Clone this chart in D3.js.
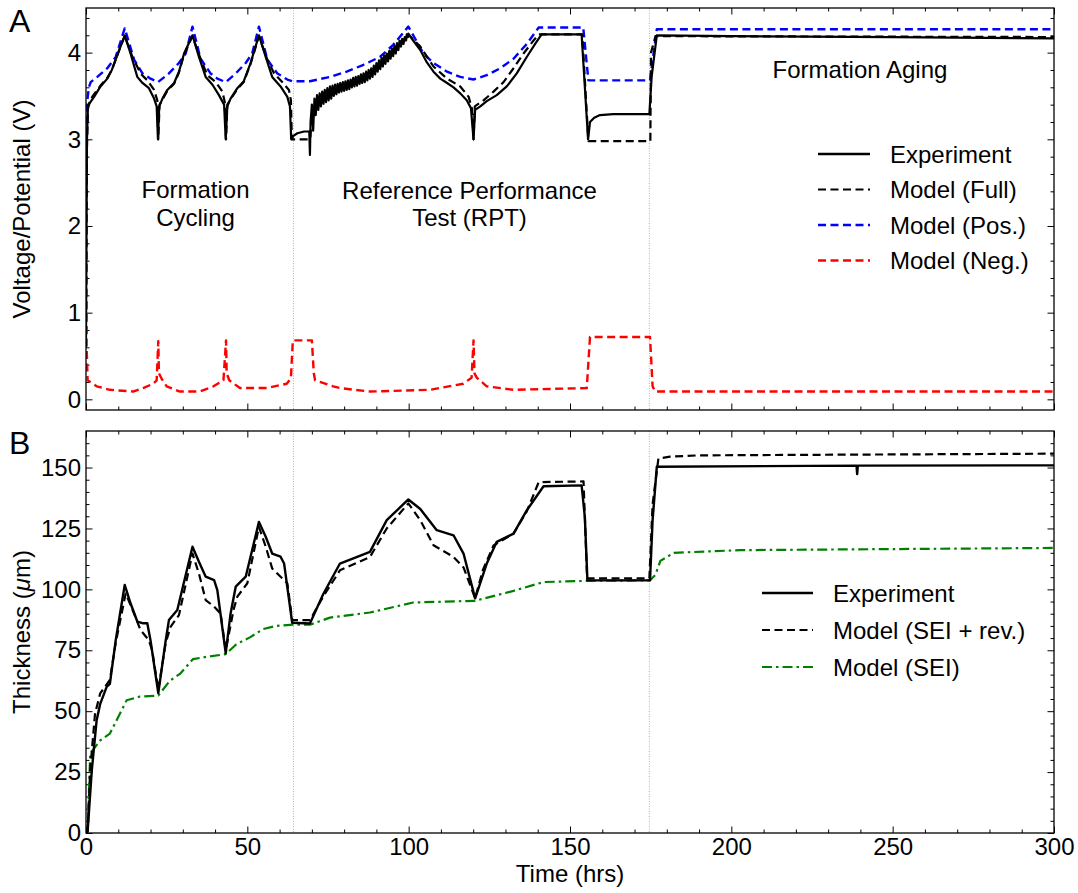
<!DOCTYPE html>
<html><head><meta charset="utf-8">
<script src="https://cdn.jsdelivr.net/npm/d3@7"></script>
<style>
html,body{margin:0;padding:0;background:#fff;}
text{font-family:"Liberation Sans",Arial,Helvetica,sans-serif;fill:#000;}
</style></head>
<body><svg id="chart" width="1078" height="893"></svg>
<script>
// ---------- Data (time in hrs) ----------
const xTicks = [0, 50, 100, 150, 200, 250, 300];
const yTicksA = [0, 1, 2, 3, 4];
const yTicksB = [0, 25, 50, 75, 100, 125, 150];
const phaseBoundaries = [64.3, 174.6];

// Panel A: Experiment voltage, before and after the RPT pulse section
const expA_pre = [[0,0.7],[0.3,3.0],[0.6,3.38],[1.2,3.42],[2.5,3.49],[4.5,3.61],[6.6,3.70],[8,3.8],[9.2,3.92],[10.7,4.07],[12,4.2],[13.8,3.99],[15.9,3.72],[17.5,3.65],[19.5,3.59],[21.1,3.47],[21.9,3.38],[22.3,3.0],[22.7,3.38],[23.7,3.47],[25.2,3.57],[27.3,3.65],[28.8,3.78],[30.4,3.99],[33,4.2],[35,3.95],[37.1,3.72],[39.2,3.63],[41.2,3.51],[42.8,3.4],[43.3,3.0],[43.8,3.38],[44.8,3.47],[46.9,3.59],[48.9,3.67],[51,3.88],[53.6,4.2],[55.7,3.95],[57.7,3.72],[60.3,3.61],[62.4,3.49],[63.2,3.38],[63.6,3.0],[64.3,3.04],[65.5,3.07],[67.6,3.09],[69.2,3.09],[69.4,2.82],[69.6,3.2]];
// RPT pulses: [time, high V, low V]
const rptPulses = [[70.0,3.40,3.10],[70.8,3.47,3.28],[71.6,3.51,3.34],[72.4,3.53,3.38],[73.2,3.55,3.41],[74.0,3.57,3.43],[74.8,3.59,3.45],[75.6,3.61,3.47],[76.4,3.62,3.50],[77.2,3.63,3.52],[78.0,3.64,3.54],[78.8,3.65,3.55],[79.6,3.66,3.56],[80.4,3.67,3.57],[81.2,3.68,3.58],[82.0,3.69,3.60],[82.8,3.71,3.61],[83.6,3.72,3.62],[84.4,3.73,3.64],[85.2,3.75,3.65],[86.0,3.76,3.66],[86.8,3.78,3.68],[87.6,3.80,3.70],[88.4,3.82,3.72],[89.2,3.85,3.75],[90.0,3.88,3.78],[90.8,3.91,3.81],[91.6,3.94,3.84],[92.4,3.97,3.87],[93.2,3.99,3.90],[94.0,4.02,3.93],[94.8,4.05,3.96],[95.6,4.08,3.99],[96.4,4.11,4.03],[97.2,4.14,4.07],[98.0,4.16,4.10],[98.8,4.18,4.14],[99.4,4.21,4.18]];
const expA_post = [[99.9,4.22],[101.4,4.14],[103.6,4.03],[105.6,3.89],[107.7,3.78],[109.8,3.70],[111.9,3.65],[113.9,3.60],[116,3.53],[118,3.45],[119.3,3.36],[120.1,3.0],[120.6,3.34],[122.2,3.38],[124.2,3.44],[127.3,3.51],[130.4,3.61],[133.5,3.76],[136.6,3.95],[139.2,4.1],[141.2,4.21],[153.6,4.21],[155.6,3.0],[156.2,3.2],[157.5,3.25],[159.3,3.28],[163.4,3.29],[174.6,3.29],[175.3,3.72],[176.9,4.2],[200,4.19],[250,4.18],[300,4.165]];

const fullA = [[0,0.6],[0.3,2.9],[0.6,3.35],[1.2,3.45],[2.5,3.52],[4.5,3.62],[6.6,3.71],[8,3.8],[9.2,3.92],[10.7,4.07],[12,4.19],[14.4,3.95],[16.9,3.76],[19,3.68],[21.1,3.57],[22.1,3.45],[22.4,3.0],[22.8,3.4],[23.7,3.46],[25.2,3.56],[27.3,3.64],[28.8,3.77],[30.4,3.98],[33,4.19],[35.5,3.93],[37.6,3.74],[40.2,3.66],[42.3,3.55],[43,3.43],[43.4,3.0],[43.8,3.4],[44.8,3.46],[46.9,3.58],[48.9,3.66],[51,3.87],[53.6,4.19],[56.1,3.93],[58.3,3.76],[60.8,3.66],[62.9,3.57],[63.5,3.45],[63.8,3.0],[69.5,3.0],[70,3.3],[71.5,3.42],[75.6,3.54],[80.8,3.62],[86,3.71],[91,3.87],[95.2,4.02],[99.9,4.21],[103.6,4.07],[107.7,3.84],[111.9,3.70],[116,3.61],[118.6,3.49],[119.7,3.34],[120.1,3.0],[120.5,3.38],[123.2,3.45],[126.3,3.55],[129.4,3.66],[132.5,3.82],[135.6,3.99],[138.7,4.14],[140.3,4.21],[153.8,4.21],[155.7,2.98],[174.9,2.98],[175.1,4.0],[176.5,4.19],[300,4.18]];

const posA = [[0,2.6],[0.4,3.45],[0.9,3.6],[1.45,3.66],[3.5,3.72],[6.6,3.82],[9.2,3.95],[12,4.28],[14.9,3.92],[17.5,3.76],[20,3.70],[22.3,3.66],[25.7,3.76],[28.8,3.88],[30.9,3.99],[33,4.3],[35.5,3.93],[38.6,3.76],[40.7,3.70],[43.3,3.66],[46.4,3.76],[49.5,3.88],[51.5,3.99],[53.6,4.3],[56.2,3.92],[59.3,3.76],[62.4,3.69],[63.9,3.67],[69.4,3.67],[75.6,3.72],[80.8,3.78],[86,3.86],[91.1,3.95],[95.2,4.09],[99.9,4.3],[104.6,3.99],[107.7,3.88],[111.9,3.78],[116,3.72],[120.1,3.69],[124.2,3.74],[128.4,3.82],[132.5,3.93],[136.6,4.1],[140.3,4.29],[154.1,4.29],[155.7,3.68],[174.8,3.68],[176.9,4.27],[300,4.27]];

const negA = [[0,2.0],[0.2,0.6],[0.5,0.22],[3.3,0.15],[7.4,0.11],[14.6,0.09],[17.7,0.13],[20.8,0.18],[21.9,0.22],[22.4,0.67],[22.6,0.3],[23.4,0.24],[25,0.15],[29.1,0.09],[35.3,0.09],[39.5,0.15],[42.6,0.22],[43.4,0.68],[43.6,0.3],[44.4,0.22],[47.7,0.13],[56,0.13],[62.2,0.18],[63.5,0.24],[64.1,0.68],[70,0.68],[70.6,0.3],[71,0.22],[76.6,0.15],[78.7,0.13],[88,0.09],[106.6,0.11],[116.9,0.18],[119.5,0.25],[120.1,0.68],[120.4,0.3],[121.1,0.25],[124.2,0.15],[132.5,0.11],[155.2,0.13],[156.2,0.72],[174.8,0.72],[175.6,0.15],[176.4,0.09],[300,0.09]];

// Panel B: thickness (um)
const expB = [[0,0],[0.5,0.6],[1.8,25.8],[3.3,46.3],[4.4,53],[6.4,60],[7.4,61.2],[9.2,79],[12,101.8],[13.8,94.3],[15.9,86.8],[17.5,86.1],[19,86.1],[20,79],[22.4,57.4],[24.7,79],[25.7,87.4],[28.3,91.5],[33,117.5],[35,111.3],[37.1,105.2],[39.7,103.8],[40.7,99.7],[43.3,73.8],[44.8,90],[46.4,101.1],[49.5,105.2],[53.6,127.7],[55.7,121.6],[57.7,114.7],[60.3,113.4],[61.4,110.6],[63.9,86.3],[69.4,86],[73.5,98],[78.7,110.6],[88,115.4],[93.2,128.4],[99.9,136.9],[103.6,133],[108.7,124.3],[113.9,122.2],[117,114.7],[120.6,96.3],[124.2,110.6],[127.3,119.5],[132.5,122.9],[136.6,132.4],[141.8,142.3],[153.6,142.7],[154.6,129.7],[155.4,103.7],[174.8,103.7],[175.6,128.4],[176.9,150.3],[238.8,150.8],[239,147.3],[239.2,150.8],[300,150.9]];
const fullB = [[0,0],[0.5,1],[1.3,25.8],[2.8,49],[4.4,57.3],[7.4,62.8],[9.2,78],[12.3,98.3],[14.9,90.1],[16.9,83.3],[19.5,79.1],[20.5,75],[22.4,58.7],[24.7,78],[26.2,84.6],[28.8,89.4],[33,114.7],[35,106.5],[37.1,95.6],[39.7,92.9],[41.7,90.1],[43.3,75],[45.8,92],[46.9,97],[50,102.5],[53.6,125.6],[55.7,117.5],[57.7,108.6],[60.3,105.2],[62.4,102.5],[63.9,87.4],[69.4,87.4],[73.5,97],[78.7,107.8],[88,113.3],[93.2,125],[99.9,135.3],[103.6,128.4],[107.7,118.1],[113.9,113.3],[117,109],[120.6,96.3],[123,108],[126.3,118],[132.5,122.9],[136.6,132],[140.3,144],[154.2,144.3],[155.3,104.5],[174.6,104.5],[175.6,135],[177.4,153.7],[181,154.5],[190,155],[300,155.7]];
const seiB = [[0,0],[0.5,0.6],[1.3,32.6],[4.4,38],[7.4,40.8],[9.5,46.3],[12.6,54.5],[16.7,56],[22.4,56.4],[26,62.5],[29.1,65.3],[33.2,71.4],[37.4,72.3],[43.3,73.4],[46.6,77.5],[50.8,80.3],[54.9,83.7],[59,85],[64.3,85.5],[69.4,85.5],[75.6,88.4],[88,90.5],[101.4,94.6],[120.6,95.3],[132.5,99.4],[141.8,103],[155.2,103.5],[174.8,103.7],[176.5,106],[178,111.7],[182.2,115],[202.7,116.1],[300,117]];

const legendA = ["Experiment", "Model (Full)", "Model (Pos.)", "Model (Neg.)"];
const legendB = ["Experiment", "Model (SEI + rev.)", "Model (SEI)"];

// ---------- Layout ----------
const svg = d3.select("#chart");
const L = 86, R = 1054;
const A = {top: 8, bottom: 410};
const B = {top: 431, bottom: 833};

const x = d3.scaleLinear().domain([0, 300]).range([L, R]);
const yA = d3.scaleLinear().domain([-0.123, 4.515]).range([A.bottom, A.top]);
const yB = d3.scaleLinear().domain([0, 165]).range([B.bottom, B.top]);

const styles = {
  exp:  {stroke:"#000", width:2.4, dash:null},
  full: {stroke:"#000", width:2.2, dash:"8,4.5"},
  pos:  {stroke:"#0000ff", width:2.4, dash:"8,4.5"},
  neg:  {stroke:"#ff0000", width:2.4, dash:"8,4.5"},
  sei:  {stroke:"#008000", width:2.2, dash:"10,4,2.5,4"}
};

const defs = svg.append("defs");
defs.append("clipPath").attr("id","clipA").append("rect").attr("x",L).attr("y",A.top).attr("width",R-L).attr("height",A.bottom-A.top);
defs.append("clipPath").attr("id","clipB").append("rect").attr("x",L).attr("y",B.top).attr("width",R-L).attr("height",B.bottom-B.top);

function drawPanel(P, y, majors, minorStep, clipId) {
  const g = svg.append("g");
  // phase boundaries
  phaseBoundaries.forEach(t => {
    g.append("line").attr("x1",x(t)).attr("x2",x(t)).attr("y1",P.top).attr("y2",P.bottom)
      .attr("stroke","#a0a0a0").attr("stroke-width",0.8).attr("stroke-dasharray","1,1.5");
  });
  const minorX = d3.range(0, 301, 10).filter(v => v % 50 !== 0);
  const dom = y.domain();
  const minorY = d3.range(Math.ceil(dom[0]/minorStep)*minorStep, dom[1], minorStep)
      .map(v => +v.toFixed(4)).filter(v => !majors.some(m => Math.abs(m - v) < 1e-6));
  // bottom/top
  const ax = (axis, yy) => svg.append("g").attr("transform",`translate(0,${yy})`).call(axis)
      .call(s => s.select(".domain").remove());
  ax(d3.axisBottom(x).tickValues(minorX).tickSize(-3.5).tickFormat(""), P.bottom);
  ax(d3.axisTop(x).tickValues(minorX).tickSize(-3.5).tickFormat(""), P.top);
  ax(d3.axisTop(x).tickValues(xTicks).tickSize(-6.5).tickFormat(""), P.top);
  const ay = (axis, xx) => svg.append("g").attr("transform",`translate(${xx},0)`).call(axis)
      .call(s => s.select(".domain").remove());
  ay(d3.axisLeft(y).tickValues(minorY).tickSize(-3.5).tickFormat(""), L);
  ay(d3.axisRight(y).tickValues(minorY).tickSize(-3.5).tickFormat(""), R);
  ay(d3.axisRight(y).tickValues(majors).tickSize(-6.5).tickFormat(""), R);
  const left = ay(d3.axisLeft(y).tickValues(majors).tickSize(-6.5).tickPadding(5).tickFormat(d3.format("d")), L);
  left.selectAll("text").style("font-size","24px").attr("font-family",null);
  svg.selectAll(".tick line").attr("stroke","#000").attr("stroke-width",1);
  return g;
}

function line(data, y) {
  return d3.line().x(d => x(d[0])).y(d => y(d[1]))(data);
}
function drawSeries(data, y, st, clipId) {
  svg.append("path").attr("d", line(data, y)).attr("clip-path",`url(#${clipId})`)
    .attr("fill","none").attr("stroke",st.stroke).attr("stroke-width",st.width)
    .attr("stroke-dasharray",st.dash).attr("stroke-linejoin","round");
}

// Panel A
drawPanel(A, yA, yTicksA, 0.2, "clipA");
svg.append("g").attr("transform",`translate(0,${A.bottom})`)
  .call(d3.axisBottom(x).tickValues(xTicks).tickSize(-6.5).tickFormat(""))
  .call(s => s.select(".domain").remove()).selectAll("line").attr("stroke","#000");

const expAFull = [...expA_pre, ...rptPulses.flatMap(p => [[p[0], p[1]], [p[0] + 0.4, p[2]]]), ...expA_post];
drawSeries(negA, yA, styles.neg, "clipA");
drawSeries(posA, yA, styles.pos, "clipA");
drawSeries(expAFull, yA, {...styles.exp, width:2.2}, "clipA");
drawSeries(fullA, yA, styles.full, "clipA");

// Panel B
drawPanel(B, yB, yTicksB, 5, "clipB");
const bx = svg.append("g").attr("transform",`translate(0,${B.bottom})`)
  .call(d3.axisBottom(x).tickValues(xTicks).tickSize(-6.5).tickPadding(5).tickFormat(d3.format("d")))
  .call(s => s.select(".domain").remove());
bx.selectAll("text").style("font-size","24px").attr("font-family",null);
bx.selectAll("line").attr("stroke","#000");

drawSeries(seiB, yB, styles.sei, "clipB");
drawSeries(expB, yB, styles.exp, "clipB");
drawSeries(fullB, yB, styles.full, "clipB");

// frames
[A, B].forEach(P => svg.append("rect").attr("x",L).attr("y",P.top).attr("width",R-L).attr("height",P.bottom-P.top)
  .attr("fill","none").attr("stroke","#000").attr("stroke-width",1.3));

// panel letters
svg.append("text").attr("x",9).attr("y",32).style("font-size","32px").text("A");
svg.append("text").attr("x",9).attr("y",454).style("font-size","32px").text("B");

// axis titles
svg.append("text").attr("transform",`translate(30,${(A.top+A.bottom)/2}) rotate(-90)`)
  .attr("text-anchor","middle").style("font-size","24px").text("Voltage/Potential (V)");
const tB = svg.append("text").attr("transform",`translate(30,${(B.top+B.bottom)/2}) rotate(-90)`)
  .attr("text-anchor","middle").style("font-size","24px");
tB.append("tspan").text("Thickness (");
tB.append("tspan").style("font-style","italic").text("\u03bc");
tB.append("tspan").text("m)");
svg.append("text").attr("x",(L+R)/2).attr("y",882).attr("text-anchor","middle").style("font-size","24px").text("Time (hrs)");

// annotations
const ann = (t, xx, yy) => svg.append("text").attr("x",xx).attr("y",yy).attr("text-anchor","middle").style("font-size","24px").text(t);
ann("Formation", 195.5, 198); ann("Cycling", 195.5, 226);
ann("Reference Performance", 469.5, 199); ann("Test (RPT)", 469.5, 226);
ann("Formation Aging", 860, 78);

// legends
const legStA = [styles.exp, styles.full, styles.pos, styles.neg];
legendA.forEach((name, i) => {
  const yy = 154 + i * 35.5;
  const st = legStA[i];
  svg.append("line").attr("x1",818).attr("x2",870).attr("y1",yy).attr("y2",yy)
    .attr("stroke",st.stroke).attr("stroke-width",st.width).attr("stroke-dasharray",st.dash);
  svg.append("text").attr("x",890).attr("y",yy+8.5).style("font-size","24px").text(name);
});
const legStB = [styles.exp, styles.full, styles.sei];
legendB.forEach((name, i) => {
  const yy = 593 + i * 37;
  const st = legStB[i];
  svg.append("line").attr("x1",762).attr("x2",813).attr("y1",yy).attr("y2",yy)
    .attr("stroke",st.stroke).attr("stroke-width",st.width).attr("stroke-dasharray",st.dash);
  svg.append("text").attr("x",833).attr("y",yy+8.5).style("font-size","24px").text(name);
});
</script></body></html>
